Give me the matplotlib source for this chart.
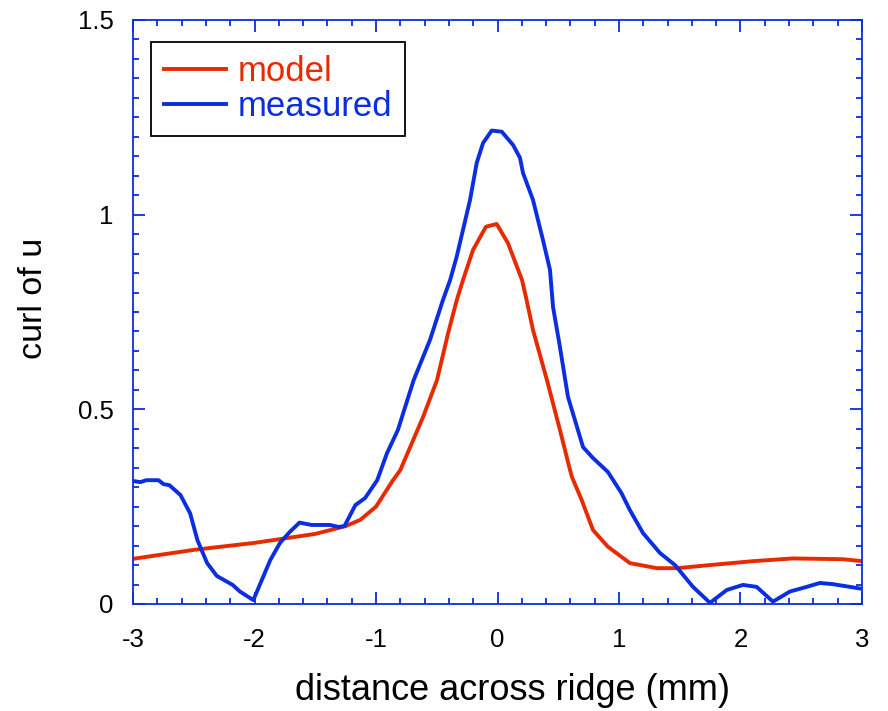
import numpy as np
import matplotlib
matplotlib.use("Agg")
import matplotlib.pyplot as plt
from matplotlib.ticker import MultipleLocator

plt.rcParams['font.family'] = ['Liberation Sans', 'DejaVu Sans']
plt.rcParams['axes.unicode_minus'] = False

# model curve
model_x = [-3.0, -2.5, -2.0, -1.5, -1.25, -1.13, -1.0, -0.86, -0.80, -0.613, -0.498,
           -0.407, -0.336, -0.284, -0.202, -0.095, -0.007, 0.086, 0.202, 0.240,
           0.292, 0.407, 0.514, 0.597, 0.613, 0.693, 0.786, 0.909, 1.09, 1.313,
           1.477, 1.749, 2.103, 2.432, 2.844, 3.0]
model_y = [0.116, 0.139, 0.157, 0.18, 0.20, 0.216, 0.25, 0.318, 0.344, 0.48, 0.575,
           0.695, 0.78, 0.832, 0.909, 0.969, 0.976, 0.927, 0.832, 0.78,
           0.704, 0.575, 0.447, 0.344, 0.326, 0.267, 0.19, 0.147, 0.105, 0.092,
           0.092, 0.10, 0.11, 0.117, 0.115, 0.11]

# measured curve
meas_x = [-3.0, -2.94, -2.89, -2.79, -2.75, -2.70, -2.61, -2.53, -2.47, -2.39,
          -2.31, -2.18, -2.12, -2.01, -1.87, -1.79, -1.71, -1.63, -1.53, -1.38,
          -1.31, -1.26, -1.17, -1.09, -0.99, -0.91, -0.82, -0.69, -0.556, -0.45,
          -0.39, -0.336, -0.226, -0.171, -0.119, -0.048, 0.035, 0.128, 0.185,
          0.21, 0.292, 0.374, 0.432, 0.457, 0.514, 0.58, 0.704, 0.786, 0.909,
          1.02, 1.09, 1.198, 1.337, 1.461, 1.609, 1.749, 1.887, 2.02, 2.133,
          2.267, 2.407, 2.545, 2.654, 2.76, 2.90, 3.0]
meas_y = [0.316, 0.313, 0.318, 0.318, 0.308, 0.305, 0.28, 0.233, 0.164, 0.105,
          0.072, 0.049, 0.032, 0.010, 0.113, 0.157, 0.185, 0.209, 0.203, 0.203,
          0.198, 0.20, 0.254, 0.272, 0.318, 0.387, 0.447, 0.575, 0.678, 0.78,
          0.832, 0.892, 1.038, 1.133, 1.184, 1.216, 1.213, 1.179, 1.146,
          1.107, 1.038, 0.935, 0.858, 0.763, 0.66, 0.532, 0.403, 0.375, 0.339,
          0.285, 0.241, 0.182, 0.131, 0.10, 0.044, 0.003, 0.036, 0.049, 0.044,
          0.006, 0.032, 0.044, 0.054, 0.051, 0.044, 0.039]

red = '#e82a00'
blue = '#0a2ee0'

fig = plt.figure(figsize=(8.88, 7.11), dpi=100)
ax = fig.add_axes([0.1498, 0.1505, 0.8209, 0.8214])

ax.plot(model_x, model_y, color=red, lw=2.8, label='model')
ax.plot(meas_x, meas_y, color=blue, lw=2.8, label='measured')

ax.set_xlim(-3, 3)
ax.set_ylim(0, 1.5)
ax.xaxis.set_major_locator(MultipleLocator(1))
ax.xaxis.set_minor_locator(MultipleLocator(0.2))
ax.yaxis.set_minor_locator(MultipleLocator(0.05))
ax.set_yticks([0, 0.5, 1, 1.5])
ax.set_yticklabels(['0', '0.5', '1', '1.5'])

for s in ax.spines.values():
    s.set_color(blue)
    s.set_linewidth(1.3)
ax.tick_params(which='both', direction='in', top=True, right=True,
               color=blue, labelsize=18.5, labelcolor='black')
ax.tick_params(which='major', length=8.5, width=1.3, pad=14)
ax.tick_params(axis='x', which='major', pad=17.5)
ax.tick_params(which='minor', length=4.5, width=1.3)

ax.set_xlabel('distance across ridge (mm)', fontsize=26)
ax.set_ylabel('curl of u', fontsize=24.5)
ax.xaxis.set_label_coords(0.52, -0.119)
ax.yaxis.set_label_coords(-0.115, 0.524)

leg = ax.legend(loc='upper left', fontsize=25, fancybox=False, framealpha=1,
                edgecolor='black', handlelength=1.8, handletextpad=0.35,
                borderpad=0.36, labelspacing=0.07, borderaxespad=0,
                bbox_to_anchor=(0.0247, 0.962))
leg.get_frame().set_linewidth(1.3)
for txt, c in zip(leg.get_texts(), [red, blue]):
    txt.set_color(c)

fig.savefig('out.png', dpi=100)
